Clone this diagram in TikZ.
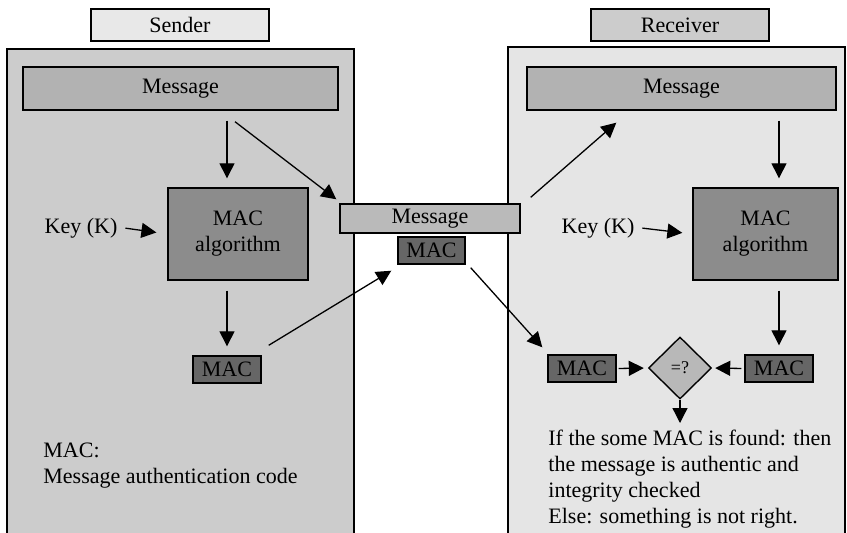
\documentclass[tikz,border=0pt]{standalone}
\usepackage{fontspec}
\setmainfont{Liberation Serif}
\usetikzlibrary{arrows.meta,shapes.geometric}

\begin{document}
\begin{tikzpicture}[x=0.5pt,y=-0.5pt,
  font=\fontsize{11}{13}\selectfont,
  box/.style={draw,line width=0.7pt,inner sep=0pt},
  flow/.style={line width=0.65pt,-{Triangle[length=7.5pt,width=7.5pt]}},
  short/.style={shorten <=5pt,shorten >=4.5pt}]
\clip (0,0) rectangle (847,532);
\draw[line width=0.7pt,fill=black!20] (7,49) rectangle (354,560);
\draw[line width=0.7pt,fill=black!10] (508,47) rectangle (845,560);

\node[box,fill=black!9,minimum width=89pt,minimum height=16pt] (sndlabel) at (180,25) {Sender};
\node[box,fill=black!20,minimum width=89pt,minimum height=16pt] (rcvlabel) at (680,25) {Receiver};

\node[box,fill=black!30,minimum width=157.5pt,minimum height=21.5pt] (sndmsg) at (180.5,88.5) {Message};
\node[box,fill=black!30,minimum width=154.5pt,minimum height=21.5pt] (rcvmsg) at (681.5,88.5) {Message};
\node[box,fill=black!45,minimum width=70pt,minimum height=46pt,align=center] (sndalg) at (238,234) {MAC\\algorithm};
\node[box,fill=black!45,minimum width=72.5pt,minimum height=46pt,align=center] (rcvalg) at (765.5,234) {MAC\\algorithm};
\node (sndkey) at (81,228) {Key (K)};
\node (rcvkey) at (598,228) {Key (K)};

\node[box,fill=black!27,minimum width=90pt,minimum height=14.5pt] (midmsg) at (430,218.5) {Message};
\node[box,fill=black!60,minimum width=33.5pt,minimum height=13.5pt] (midmac) at (431.5,250.5) {MAC};

\node[box,fill=black!60,minimum width=34pt,minimum height=13.5pt] (sndmac) at (227,369.5) {MAC};
\node[box,fill=black!60,minimum width=34pt,minimum height=13.5pt] (rcvmacl) at (582,368.5) {MAC};
\node[box,fill=black!60,minimum width=34pt,minimum height=13.5pt] (rcvmacr) at (779,368.5) {MAC};
\node[box,diamond,aspect=1,fill=black!28,minimum width=31.5pt,minimum height=31pt,font=\fontsize{9}{10}\selectfont] (cmp) at (680,368) {=?};

\node[inner sep=0pt,anchor=north west,align=left] (note) at (43,443) {MAC:\\Message authentication code};
\node[inner sep=0pt,anchor=north west,align=left] (verdict) at (548,430) {If the some MAC is found: then\\the message is authentic and\\integrity checked\\Else: something is not right.};

\draw[flow,short] (sndmac |- sndmsg.south) -- (sndmac |- sndalg.north);
\draw[flow,short] (sndmac |- sndalg.south) -- (sndmac.north);
\draw[flow,shorten <=0.5pt,shorten >=5.5pt] (sndkey.east) -- (sndalg.west);
\draw[flow] ([shift={(54.5,11)}]sndmsg.south) -- ([shift={(-3,-4)}]midmsg.north west);
\draw[flow] ([shift={(7,-10)}]sndmac.north east) -- ([shift={(-6,6)}]midmac.south west);

\draw[flow] ([shift={(10,-6)}]midmsg.north east) -- ([shift={(90,12)}]rcvmsg.south west);
\draw[flow] ([shift={(5,3)}]midmac.south east) -- ([shift={(-5,-7)}]rcvmacl.north west);
\draw[flow,short] (rcvmacr |- rcvmsg.south) -- (rcvmacr |- rcvalg.north);
\draw[flow,short] (rcvmacr |- rcvalg.south) -- (rcvmacr.north);
\draw[flow,shorten <=0.5pt,shorten >=5pt] (rcvkey.east) -- (rcvalg.west);
\draw[flow,shorten <=1pt,shorten >=2pt] (rcvmacl.east) -- (cmp.west);
\draw[flow,shorten <=1.5pt,shorten >=1.5pt] (rcvmacr.west) -- (cmp.east);
\draw[flow,shorten >=3.5pt] (cmp.south) -- (cmp.south |- verdict.north);
\end{tikzpicture}
\end{document}
